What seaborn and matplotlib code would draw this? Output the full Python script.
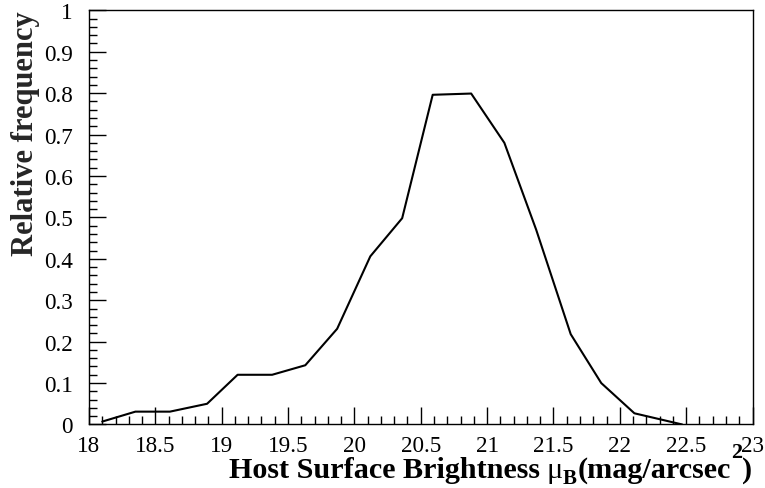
import matplotlib
matplotlib.use("Agg")
import matplotlib.pyplot as plt
import matplotlib.transforms as mtransforms
import seaborn as sns
import pandas as pd
from matplotlib.ticker import MultipleLocator

# host surface brightness bins and relative frequency
mu_b = [18.10, 18.35, 18.61, 18.89, 19.12, 19.38, 19.63, 19.87, 20.12, 20.36,
        20.59, 20.88, 21.13, 21.37, 21.63, 21.86, 22.11, 22.47]
rel_freq = [0.007, 0.031, 0.031, 0.050, 0.120, 0.120, 0.143, 0.231, 0.406, 0.498,
            0.796, 0.799, 0.680, 0.470, 0.218, 0.100, 0.027, 0.000]

x_ticks = [18, 18.5, 19, 19.5, 20, 20.5, 21, 21.5, 22, 22.5, 23]
x_tick_labels = ["18", "18.5", "19", "19.5", "20", "20.5", "21", "21.5", "22", "22.5", "23"]
y_ticks = [0, 0.1, 0.2, 0.3, 0.4, 0.5, 0.6, 0.7, 0.8, 0.9, 1.0]
y_tick_labels = ["0", "0.1", "0.2", "0.3", "0.4", "0.5", "0.6", "0.7", "0.8", "0.9", "1"]

df = pd.DataFrame({"mu_b": mu_b, "rel_freq": rel_freq})

sns.set_style("ticks")
plt.rcParams["font.family"] = ["Liberation Serif", "DejaVu Serif"]

fig = plt.figure(figsize=(7.65, 4.89), dpi=100)
ax = fig.add_axes([0.1163, 0.1299, 0.8674, 0.8470])

sns.lineplot(data=df, x="mu_b", y="rel_freq", color="black", linewidth=1.5, ax=ax)

ax.set_xlim(18, 23)
ax.set_ylim(0, 1)
ax.set_xticks(x_ticks)
ax.set_xticklabels(x_tick_labels)
ax.set_yticks(y_ticks)
ax.set_yticklabels(y_tick_labels)
ax.xaxis.set_minor_locator(MultipleLocator(0.1))
ax.yaxis.set_minor_locator(MultipleLocator(0.02))

ax.tick_params(axis="both", which="major", direction="in", length=12, width=1,
               labelsize=16.7, color="black", labelcolor="black")
ax.tick_params(axis="both", which="minor", direction="in", length=6, width=1, color="black")
ax.tick_params(axis="x", which="major", pad=7.5)
ax.tick_params(axis="y", which="major", pad=11.5)

for sp in ax.spines.values():
    sp.set_visible(True)
    sp.set_linewidth(1)
    sp.set_color("black")

ax.set_xlabel("")
ax.set_ylabel("Relative frequency", fontsize=22, fontweight="bold", loc="top")
ax.yaxis.set_label_coords(-0.074, 1.0)

# x title built piece by piece (ROOT style: right aligned, lowered subscript)
fig.canvas.draw()
renderer = fig.canvas.get_renderer()
px = mtransforms.IdentityTransform()
x_pos = 752.0
base = 489 - 478
pieces = [
    (")", 21.7, "bold", 0, 0),
    ("2", 16, "bold", 20, 0),
    ("(mag/arcsec", 21.7, "bold", 0, 1),
    ("B", 15, "bold", -6, 0),
    ("\u03bc", 21.7, "normal", 0, 6),
    ("Host Surface Brightness", 21.7, "bold", 0, 0),
]
for txt, size, weight, dy, gap in pieces:
    t = fig.text(x_pos, base + dy, txt, transform=px, ha="right", va="baseline",
                 fontsize=size, fontweight=weight, color="black")
    w = t.get_window_extent(renderer).width
    x_pos -= w + gap

fig.savefig("out.png", dpi=100)
